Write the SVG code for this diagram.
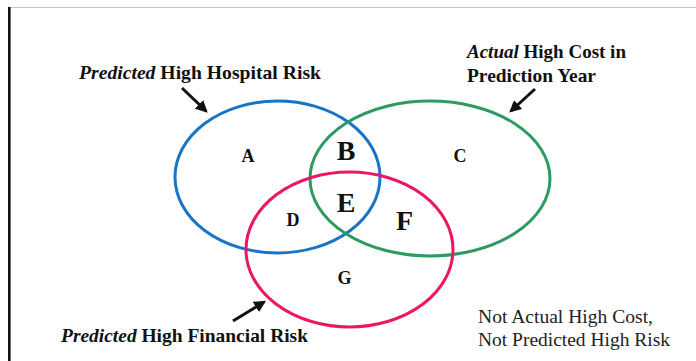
<svg xmlns="http://www.w3.org/2000/svg" width="696" height="361" viewBox="0 0 696 361">
  <style>
    .set { fill: none; stroke-width: 3; }
    .lbl { font-family: "Liberation Serif", "Times New Roman", serif; font-weight: bold; fill: #111; }
    .note { font-family: "Liberation Serif", "Times New Roman", serif; fill: #222; font-size: 19px; }
    .region { font-family: "Liberation Serif", "Times New Roman", serif; font-weight: bold; fill: #111; text-anchor: middle; }
    .sm { font-size: 18px; }
    .lg { font-size: 28px; }
    .ptr { stroke: #111; stroke-width: 3; fill: none; marker-end: url(#head); }
  </style>
  <defs>
    <marker id="head" viewBox="0 0 10 10" refX="8" refY="5" markerWidth="4" markerHeight="4" orient="auto" markerUnits="strokeWidth">
      <path d="M0,0 L10,5 L0,10 z" fill="#111"/>
    </marker>
  </defs>
  <rect width="696" height="361" fill="#fff"/>
  <!-- frame edges -->
  <line x1="10" y1="7.5" x2="696" y2="7.5" stroke="#c8c8c8" stroke-width="1.2"/>
  <line x1="9.3" y1="7" x2="9.3" y2="361" stroke="#111" stroke-width="2.6"/>

  <g id="hospital-risk">
    <ellipse class="set" cx="277.5" cy="177" rx="102.5" ry="76" stroke="#1874c4"/>
  </g>
  <g id="actual-cost">
    <ellipse class="set" cx="430" cy="178.5" rx="120" ry="77.5" stroke="#2e9a62"/>
  </g>
  <g id="financial-risk">
    <ellipse class="set" cx="349.5" cy="249.5" rx="103.5" ry="77.5" stroke="#ee1565"/>
  </g>

  <g id="regions">
    <text class="region sm" x="248" y="162">A</text>
    <text class="region lg" x="346" y="160">B</text>
    <text class="region sm" x="460" y="162">C</text>
    <text class="region sm" x="293" y="226">D</text>
    <text class="region lg" x="346" y="212">E</text>
    <text class="region lg" x="404.5" y="230">F</text>
    <text class="region sm" x="344.5" y="284">G</text>
  </g>

  <g id="labels">
    <text class="lbl" font-size="19" x="79" y="79" textLength="242" lengthAdjust="spacingAndGlyphs"><tspan font-style="italic">Predicted</tspan> High Hospital Risk</text>
    <text class="lbl" font-size="19" x="467" y="58" textLength="159" lengthAdjust="spacingAndGlyphs"><tspan font-style="italic">Actual</tspan> High Cost in</text>
    <text class="lbl" font-size="19" x="467" y="82" textLength="129" lengthAdjust="spacingAndGlyphs">Prediction Year</text>
    <text class="lbl" font-size="19" x="61" y="342" textLength="247" lengthAdjust="spacingAndGlyphs"><tspan font-style="italic">Predicted</tspan> High Financial Risk</text>
    <text class="note" x="478" y="323" textLength="175" lengthAdjust="spacingAndGlyphs">Not Actual High Cost,</text>
    <text class="note" x="478" y="346" textLength="192" lengthAdjust="spacingAndGlyphs">Not Predicted High Risk</text>
  </g>

  <g id="connectors">
    <line class="ptr" x1="182" y1="88" x2="206" y2="111"/>
    <line class="ptr" x1="535" y1="89" x2="511" y2="111"/>
    <line class="ptr" x1="233" y1="321" x2="264" y2="302"/>
  </g>
</svg>
